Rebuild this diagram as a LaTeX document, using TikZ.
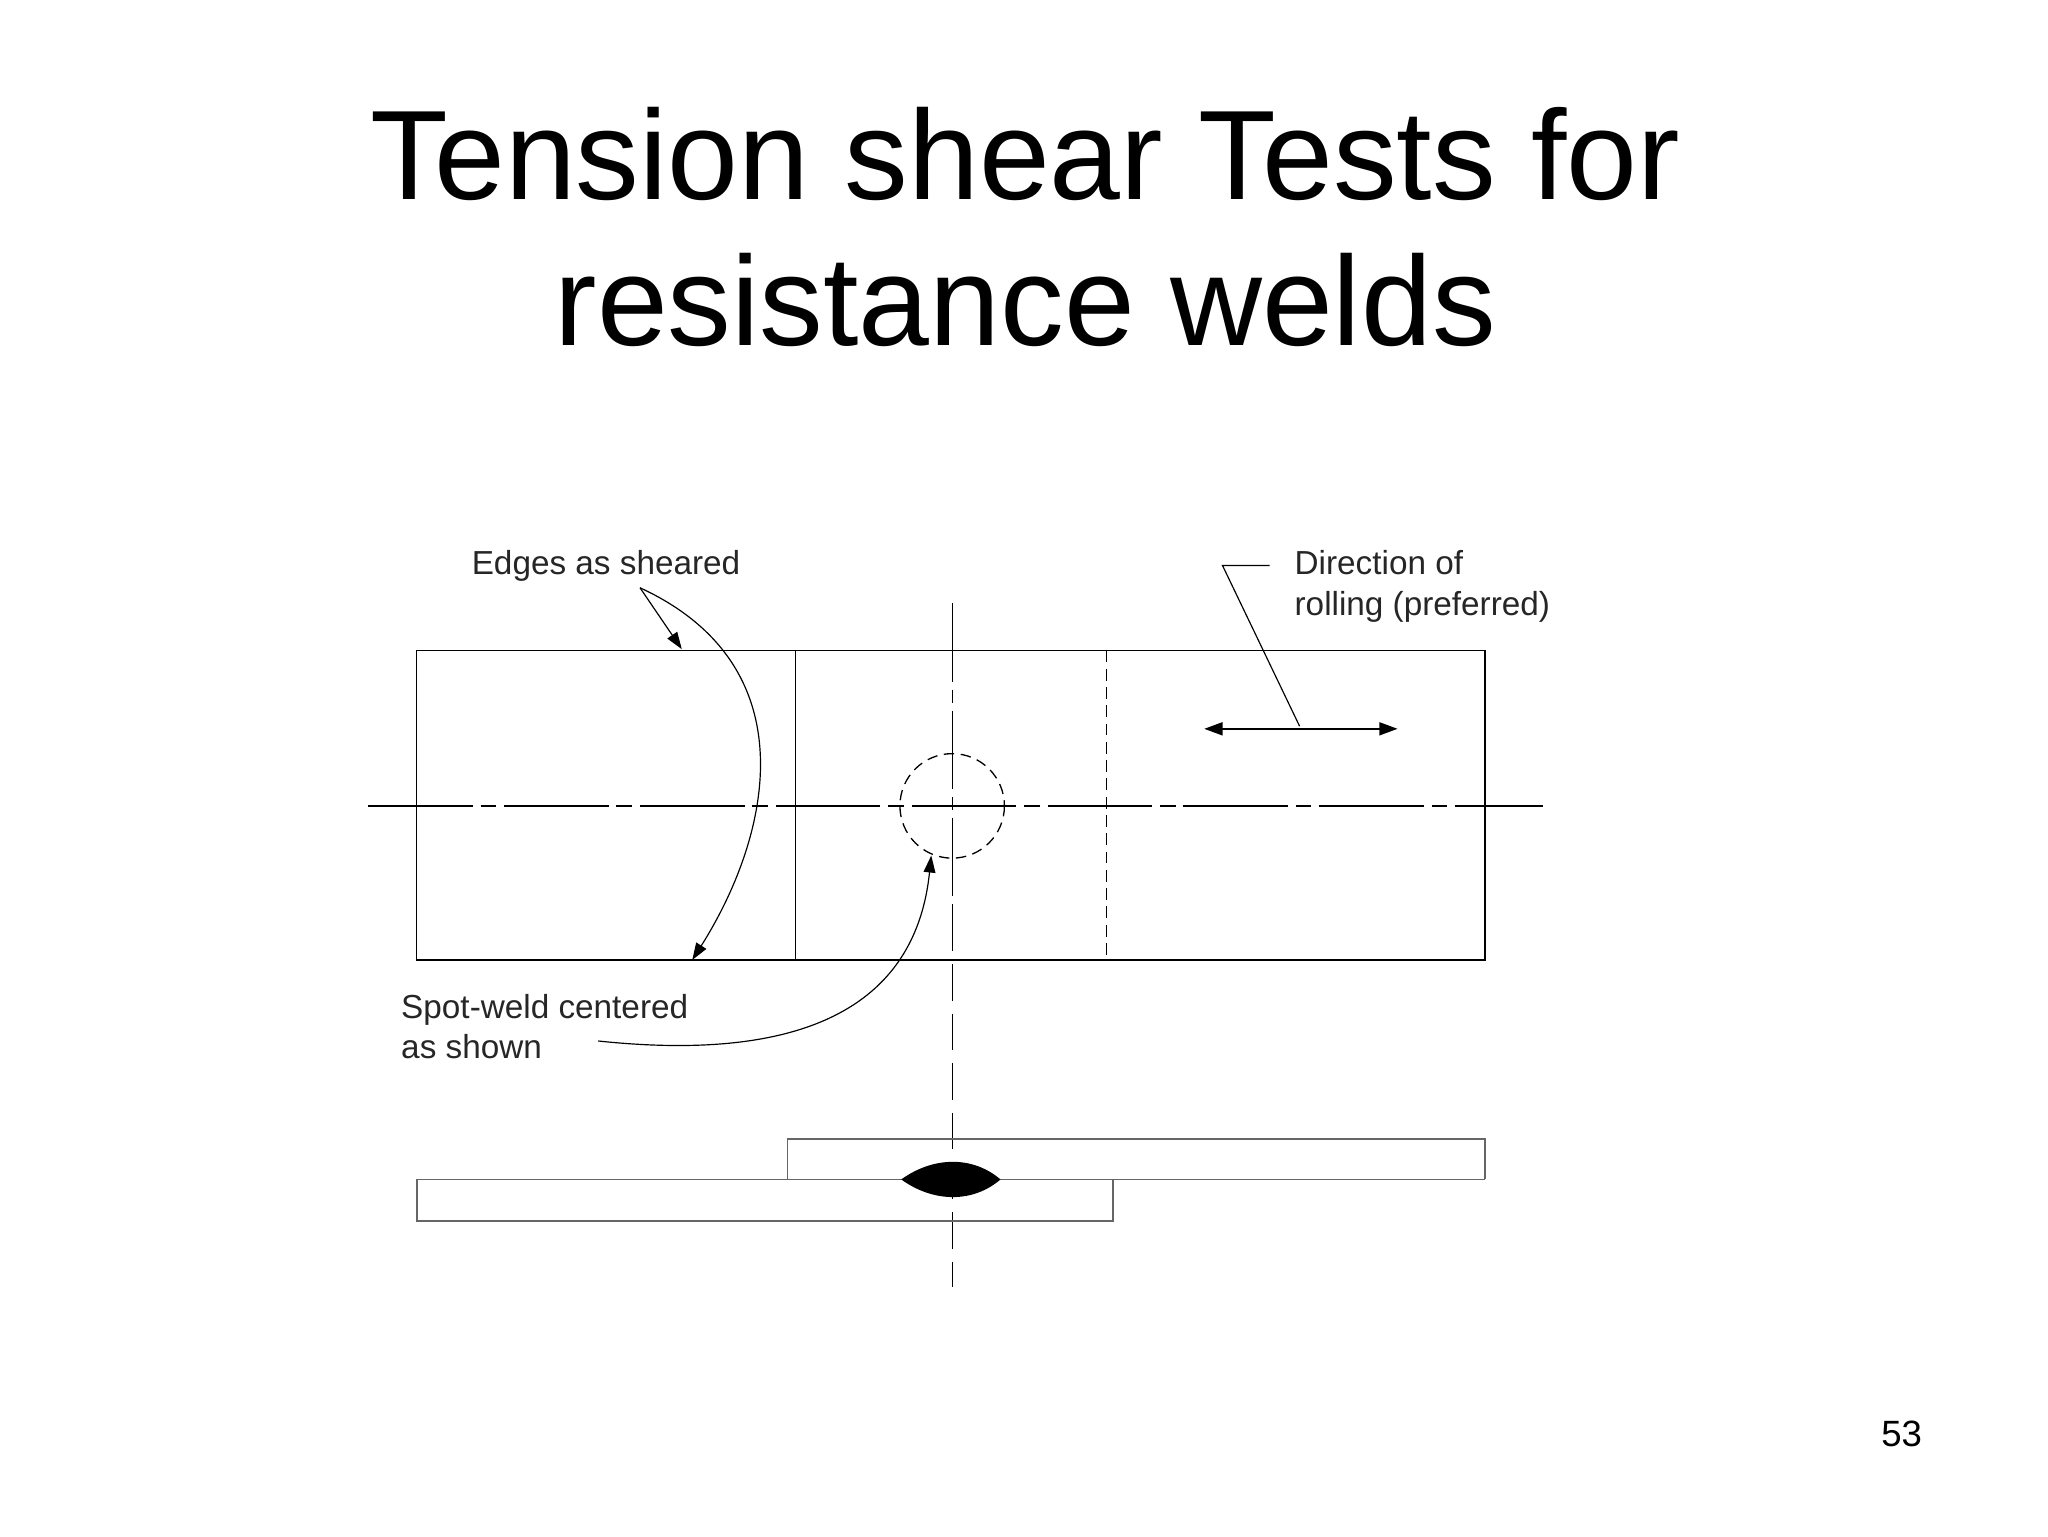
\documentclass[tikz,border=0pt]{standalone}
\usepackage{fontspec}
\setmainfont{Liberation Sans}
\usetikzlibrary{arrows.meta}
\begin{document}
\begin{tikzpicture}[x=1pt,y=-1pt,
  lbl/.style={anchor=west,font=\fontsize{25.5}{31}\selectfont,text=black!85,inner sep=0pt,align=left},
  ttl/.style={font=\fontsize{97.5}{115}\selectfont},
  ctr/.style={line width=1pt,dash pattern=on 80pt off 6pt on 12pt off 6pt},
  arr/.style={-{Triangle[length=13pt,width=9pt]},line width=0.9pt}]
\useasboundingbox (0,0) rectangle (1568,1176);
\node[ttl] (t1) at (785,118) {Tension shear Tests for};
\node[ttl] (t2) at (785,230) {resistance welds};
% plan view
\draw[line width=1.2pt] (319,498) rectangle (1137,735);
\draw[line width=1.2pt] (609,498) -- (609,735);
\draw[line width=1.2pt,dash pattern=on 9pt off 5pt] (847,498) -- (847,735);
\draw[ctr] (282,617) -- (1181,617);
\draw[line width=1pt,dash pattern=on 60pt off 6pt on 10pt off 6pt] (729,462) -- (729,700);
\draw[line width=1pt,dash pattern=on 28pt off 10pt] (729,700) -- (729,985);
\draw[line width=1pt,dash pattern=on 8pt off 5pt] (729,617) circle (40);
% direction of rolling
\coordinate (ra) at (922,558); \coordinate (rb) at (1070,558);
\draw[{Triangle[length=14pt,width=10pt]}-{Triangle[length=14pt,width=10pt]},line width=1.2pt] (ra) -- (rb);
\node[lbl] (dir) at (991,449) {Direction of\\rolling (preferred)};
\coordinate (rk) at (936,433);
\draw[line width=0.9pt] (995,556) -- (rk) -- (972,433);
% edges as sheared
\node[lbl] (edg) at (361,433) {Edges as sheared};
\coordinate (e0) at (490,450);
\draw[arr] (e0) -- (522,497);
\draw[arr] (e0) .. controls (620,510) and (590,640) .. (530,735);
% spot weld
\node[lbl] (spw) at (307,786) {Spot-weld centered\\as shown};
\draw[arr] (458,797) .. controls (600,812) and (700,780) .. (713,655);
% side view
\draw[line width=1.3pt,draw=black!60] (603,903) -- (603,872) -- (1137,872) -- (1137,903);
\draw[line width=1.3pt,draw=black!60] (319,903) rectangle (852,935);
\draw[line width=1.3pt,draw=black!60] (603,903) -- (1137,903);
\fill (690,903) .. controls (715,885) and (745,885) .. (766,903) .. controls (745,921) and (715,921) .. (690,903) -- cycle;
\node[font=\fontsize{28}{34}\selectfont] (pg) at (1456,1098) {53};
\end{tikzpicture}
\end{document}
